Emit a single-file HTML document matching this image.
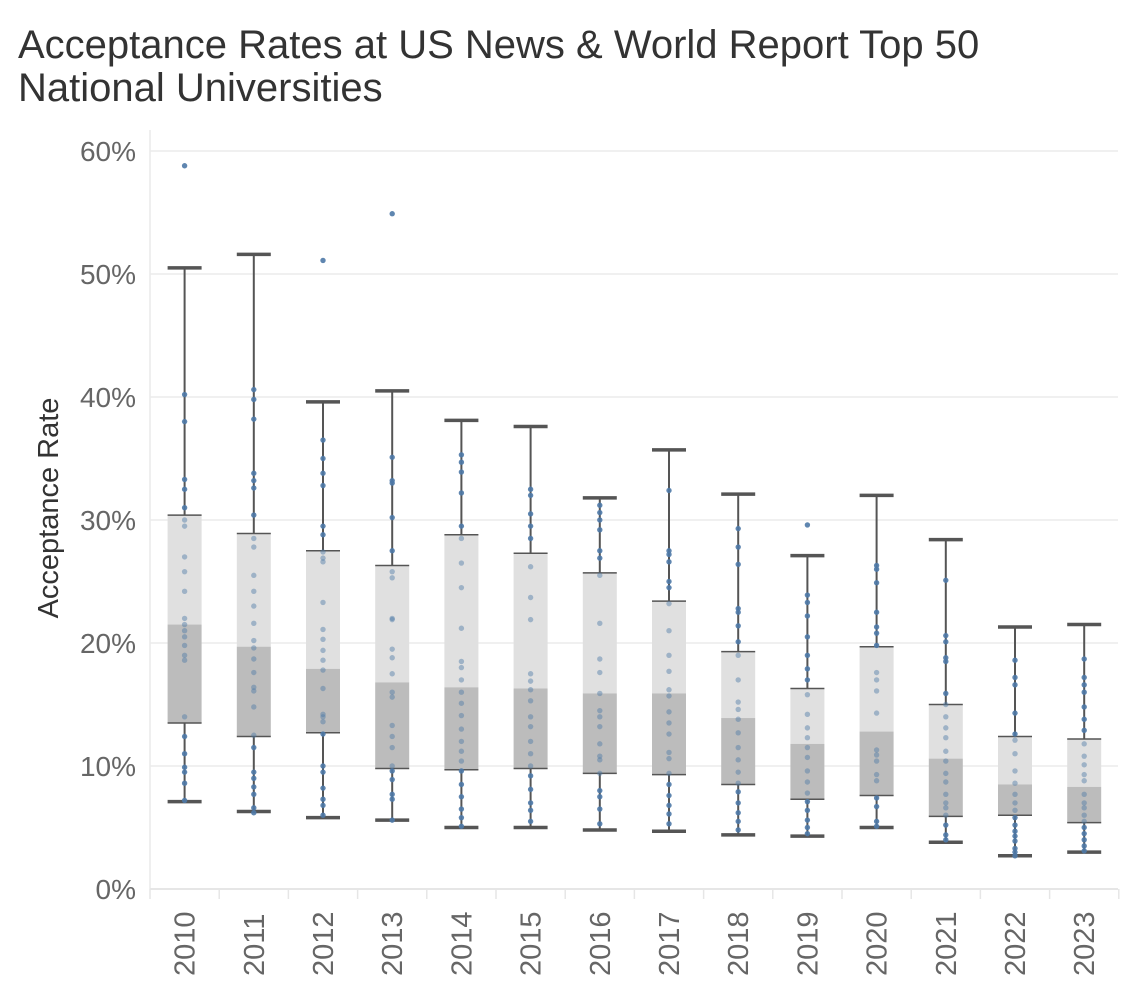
<!DOCTYPE html>
<html><head><meta charset="utf-8"><style>
body{margin:0;background:#fff;}
svg text{font-family:"Liberation Sans",Arial,sans-serif;}
</style></head><body>
<svg id="chart" width="1128" height="982" xmlns="http://www.w3.org/2000/svg">
<text x="18" y="58" font-size="40" fill="#333">Acceptance Rates at US News &amp; World Report Top 50</text>
<text x="18" y="101" font-size="40" fill="#333">National Universities</text>
<text transform="translate(58,508) rotate(-90)" text-anchor="middle" font-size="29" fill="#333">Acceptance Rate</text>
<g id="grid"></g><g id="marks"></g><g id="axes"></g>
</svg>
<script>
const years=['2010','2011','2012','2013','2014','2015','2016','2017','2018','2019','2020','2021','2022','2023'];
const whiskerHigh=[50.5,51.6,39.6,40.5,38.1,37.6,31.8,35.7,32.1,27.1,32.0,28.4,21.3,21.5];
const q3=[30.4,28.9,27.5,26.3,28.8,27.3,25.7,23.4,19.3,16.3,19.7,15.0,12.4,12.2];
const median=[21.5,19.7,17.9,16.8,16.4,16.3,15.9,15.9,13.9,11.8,12.8,10.6,8.5,8.3];
const q1=[13.5,12.4,12.7,9.8,9.7,9.8,9.4,9.3,8.5,7.3,7.6,5.9,6.0,5.4];
const whiskerLow=[7.1,6.3,5.8,5.6,5.0,5.0,4.8,4.7,4.4,4.3,5.0,3.8,2.7,3.0];
const outliers=[[58.8],[],[51.1],[54.9],[],[],[],[],[],[29.6],[],[],[],[]];
const points=[
[40.2,38,33.3,32.5,31,30,29.5,27,25.8,24.2,22,21.5,21,20.5,19.8,19,18.6,14,12.4,11,9.9,9.5,8.6,7.2],
[40.6,39.8,38.2,33.8,33.2,32.6,30.4,28.5,27.8,25.5,24.2,23,21.6,20.2,19.6,18.7,17.6,16.4,16.1,14.8,12.5,11.5,9.5,9.0,8.3,7.7,6.6,6.2],
[36.5,35,33.8,32.8,29.5,28.8,27.4,26.9,26.6,23.3,21.1,20.3,19.4,18.6,17.8,16.3,14.2,14,13.6,12.6,10,9.5,8.2,7.3,6.8,6],
[35.1,33.2,33,30.2,27.5,25.8,25.3,22,21.9,19.5,18.8,17.5,16,15.6,13.3,12.4,11.5,10,9.6,8.9,7.7,7.3,5.6],
[35.3,34.7,33.9,32.2,29.5,28.5,26.5,24.5,21.2,18.5,18,17,16,15.1,14.1,13,12,11.2,10.4,9.6,8.5,7.5,6.5,5.8,5.1],
[32.5,32,30.5,29.5,28.5,26.2,23.7,21.9,17.5,16.9,16.2,15.3,14,13.2,12,11,10,9.2,8.1,7,6.4,5.5],
[31.2,30.6,30,29.2,27.5,26.9,25.5,21.6,18.7,17.6,15.9,14.5,14,13.2,11.8,10.8,10.5,9.4,8,7.5,6.5,5.3],
[32.4,27.5,27.2,26.6,25,24.5,23.2,21,19,17.7,16.2,15.7,14.4,13.5,12.6,11.1,10.6,9.4,8.5,7.6,6.8,6.1,5.3],
[29.3,27.8,26.4,22.8,22.5,21.4,20.1,19,17,15.2,14.6,13.8,12.7,11.5,10.5,9.5,8.6,7.9,7,6.2,5.5,4.8],
[23.9,23.3,22.2,20.5,19,17.9,17,15.8,14.2,13.1,12.3,11.5,10.7,9.6,8.7,7.8,7.1,6.4,5.6,5,4.5],
[26.3,26,24.9,22.5,21.3,20.8,19.8,17.6,17,16.1,14.3,11.3,10.9,10.4,9.3,8.8,7.4,6.7,5.5,5.1],
[25.1,20.6,20.1,18.8,18.5,15.9,15,14,13.1,12.3,11.2,10.4,9.4,8.7,7.7,7,6.6,6,5.2,4.4,4],
[18.6,17.2,16.6,14.3,12.6,12.1,11,9.6,8.6,7.7,7,6.4,5.8,5.2,4.7,4.3,3.9,3.3,3,2.7],
[18.7,17.2,16.6,16,14.8,13.8,12.9,11.8,10.8,10.1,9.3,8.8,7.7,7,6.6,6,5.5,5,4.5,4,3.5,3.1]
];
const yTicks=[0,10,20,30,40,50,60];
const NS='http://www.w3.org/2000/svg';
const left=150,right=1118,top0=130,bottom=889,step=69.2;
function y(v){return bottom-v*12.3;}
function x(i){return left+step*(i+0.5);}
function mk(tag,attrs,parent){const e=document.createElementNS(NS,tag);for(const k in attrs)e.setAttribute(k,attrs[k]);parent.appendChild(e);return e;}
const grid=document.getElementById('grid'),marks=document.getElementById('marks'),axes=document.getElementById('axes');
yTicks.forEach(t=>{
 if(t>0){const g=mk('line',{x1:left,x2:right,y1:y(t),y2:y(t),stroke:'#ececec','stroke-width':1.5},grid);
 
 }
 const tx=mk('text',{x:136,y:y(t)+10,'text-anchor':'end','font-size':28,fill:'#666'},axes);
 tx.textContent=t+'%';
 
 
});
const ax=mk('line',{x1:left,x2:left,y1:top0,y2:bottom,stroke:'#eaeaea','stroke-width':1.5},axes);


const bx=mk('line',{x1:left,x2:right,y1:bottom,y2:bottom,stroke:'#e6e6e6','stroke-width':2},axes);


for(let k=0;k<=years.length;k++){
 const tk=mk('line',{x1:left+step*k,x2:left+step*k,y1:bottom,y2:bottom+10,stroke:'#e6e6e6','stroke-width':1.5},axes);
 
 
}
years.forEach((yr,i)=>{
 const cx=x(i),w=34;
 const tx=mk('text',{transform:`translate(${cx+10},${(bottom+87)}) rotate(-90)`,'font-size':29,fill:'#666'},axes);
 tx.textContent=yr;
 
 
 const g=mk('g',{},marks);
 
 
 mk('rect',{x:cx-w/2,y:y(q3[i]),width:w,height:y(median[i])-y(q3[i]),fill:'#e0e0e0'},g);
 mk('rect',{x:cx-w/2,y:y(median[i]),width:w,height:y(q1[i])-y(median[i]),fill:'#bcbcbc'},g);
 mk('line',{x1:cx,x2:cx,y1:y(whiskerHigh[i]),y2:y(q3[i]),stroke:'#555','stroke-width':2},g);
 mk('line',{x1:cx,x2:cx,y1:y(q1[i]),y2:y(whiskerLow[i]),stroke:'#555','stroke-width':2},g);
 mk('line',{x1:cx-w/2,x2:cx+w/2,y1:y(q3[i]),y2:y(q3[i]),stroke:'#555','stroke-width':1.5},g);
 mk('line',{x1:cx-w/2,x2:cx+w/2,y1:y(q1[i]),y2:y(q1[i]),stroke:'#555','stroke-width':1.5},g);
 mk('line',{x1:cx-w/2,x2:cx+w/2,y1:y(whiskerHigh[i]),y2:y(whiskerHigh[i]),stroke:'#555','stroke-width':3.5},g);
 mk('line',{x1:cx-w/2,x2:cx+w/2,y1:y(whiskerLow[i]),y2:y(whiskerLow[i]),stroke:'#555','stroke-width':3.5},g);
 points[i].concat(outliers[i]).forEach(v=>{
  const inBox=v<=q3[i]&&v>=q1[i];
  const c=mk('circle',{cx:cx,cy:y(v),r:2.7,fill:'#4e79a7','fill-opacity':inBox?0.45:0.9},g);
  
  
 });
});
</script>
</body></html>
